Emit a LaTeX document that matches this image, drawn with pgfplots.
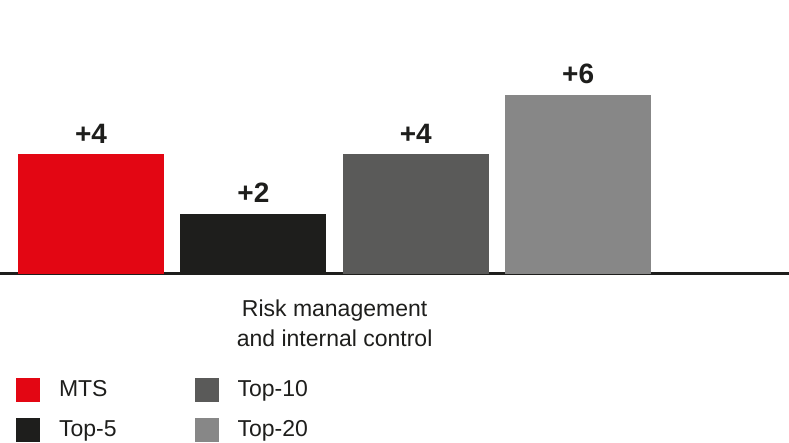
\documentclass[border=0pt]{standalone}
\usepackage{fontspec}
\setmainfont{Liberation Sans}
\usepackage{pgfplots}
\pgfplotsset{compat=1.18}
\definecolor{mtsred}{HTML}{E30613}
\definecolor{mtsblack}{HTML}{1E1E1C}
\definecolor{mtsdark}{HTML}{5A5A59}
\definecolor{mtsgray}{HTML}{878787}
\pgfplotsset{
    mybar/.style={ybar, bar width=0.899, bar shift=0pt, draw=none, fill=#1,
        legend image code/.code={\fill[##1] (0pt,-13pt) rectangle (24pt,11pt);}},
}
\begin{document}
\begin{tikzpicture}
\begin{axis}[
    scale only axis, width=789pt, height=442pt,
    xmin=-0.5603, xmax=4.2980, ymin=-5.654, ymax=9.178,
    axis x line=middle, axis y line=none,
    x axis line style={-, line width=3.5pt, color=mtsblack},
    xtick={1.5}, xticklabels={{Risk management\\and internal control}},
    xticklabel style={align=center, inner sep=0pt, anchor=north, yshift=-26pt,
        font=\fontsize{23}{30}\selectfont, text=mtsblack},
    major tick length=0pt, ytick=\empty,
    /pgf/number format/assume math mode=true,
    nodes near coords={+\pgfmathprintnumber{\pgfplotspointmeta}},
    nodes near coords style={font=\bfseries\fontsize{28}{28}\selectfont,
        text=mtsblack, inner sep=0pt, anchor=south, yshift=11pt},
    legend columns=2, transpose legend, legend cell align=left,
    legend style={at={(0.0203,0.1448)}, anchor=north west, draw=none, fill=none,
        inner sep=0pt, outer sep=0pt, row sep=16pt,
        nodes={inner sep=0pt}, font=\fontsize{23}{28}\selectfont, text=mtsblack,
        /tikz/every odd column/.append style={column sep=19pt},
        /tikz/every even column/.append style={column sep=78pt}},
]
\addplot[mybar=mtsred] coordinates {(0,4)};
\addlegendentry{MTS}
\addplot[mybar=mtsblack] coordinates {(1,2)};
\addlegendentry{Top-5}
\addplot[mybar=mtsdark] coordinates {(2,4)};
\addlegendentry{Top-10}
\addplot[mybar=mtsgray] coordinates {(3,6)};
\addlegendentry{Top-20}
\end{axis}
\pgfresetboundingbox
\path (current axis.south west) rectangle (current axis.north east);
\end{tikzpicture}
\end{document}
